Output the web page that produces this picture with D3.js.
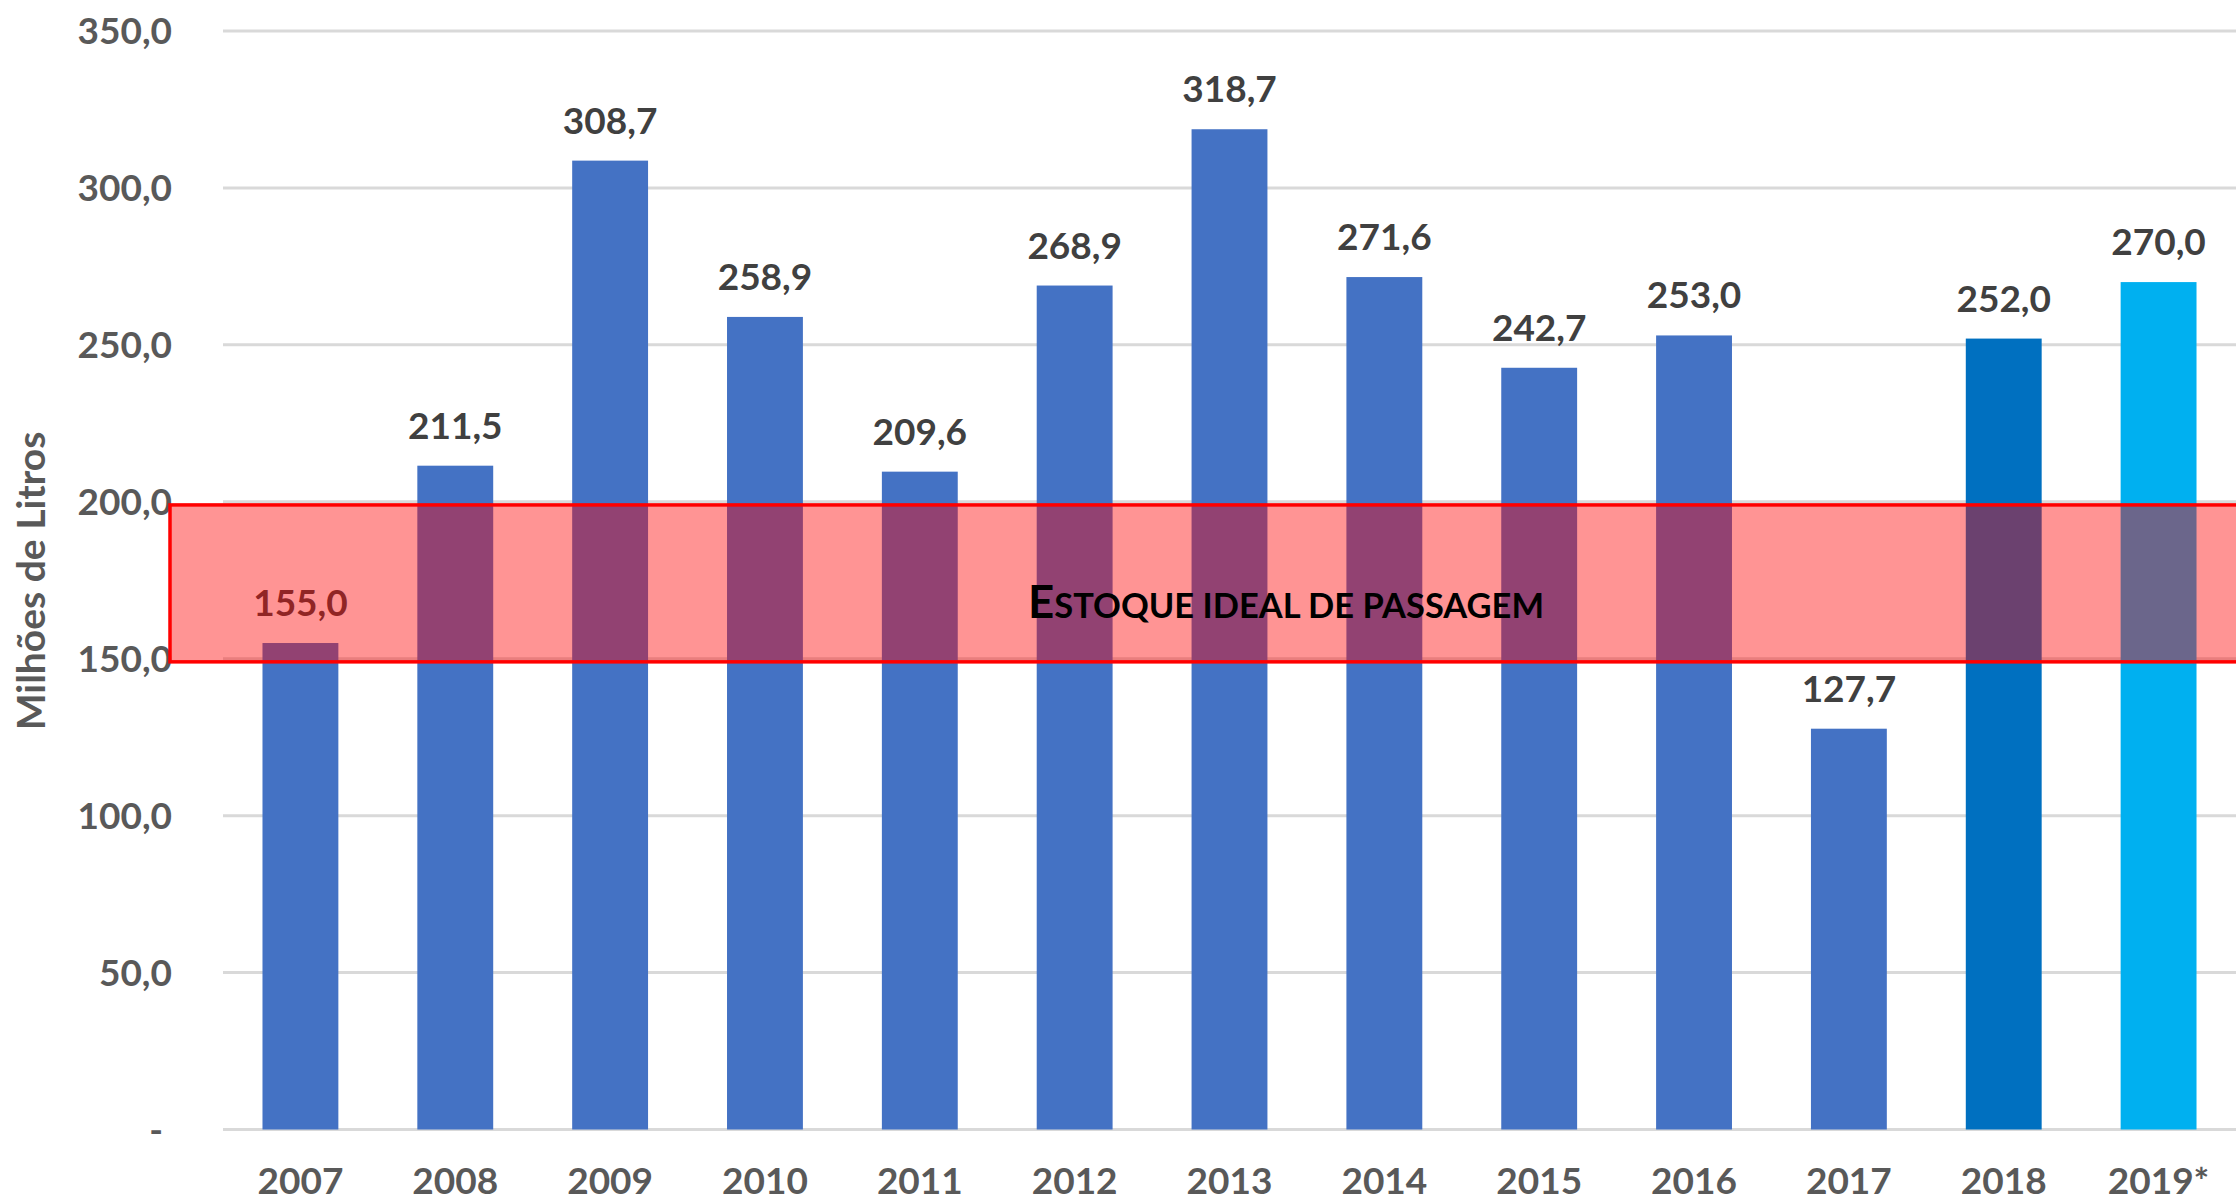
<!DOCTYPE html>
<html>
<head>
<meta charset="utf-8">
<script src="https://cdn.jsdelivr.net/npm/d3@7"></script>
<style>
  html, body { margin: 0; padding: 0; background: #fff; }
  svg { display: block; font-family: Lato, "Open Sans", sans-serif; }
</style>
</head>
<body>
<script>
'use strict';

// values
const years = ['2007', '2008', '2009', '2010', '2011', '2012', '2013', '2014', '2015', '2016', '2017', '2018', '2019*'];
const stock = [155.0, 211.5, 308.7, 258.9, 209.6, 268.9, 318.7, 271.6, 242.7, 253.0, 127.7, 252.0, 270.0];
const barColors = ['#4472C4', '#4472C4', '#4472C4', '#4472C4', '#4472C4', '#4472C4', '#4472C4', '#4472C4', '#4472C4', '#4472C4', '#4472C4', '#0070C0', '#00B0F0'];
const yTicks = [0, 50, 100, 150, 200, 250, 300, 350];
const idealBand = [149, 199];
const bandLabel = 'Estoque ideal de passagem';
const yTitle = 'Milhões de Litros';

const width = 2236;
const height = 1202;
const margin = { top: 31, left: 223, bottom: 72, right: 0 };

const svg = d3.select('body').append('svg')
  .attr('width', width)
  .attr('height', height);

const xScale = d3.scaleBand()
  .domain(years)
  .range([margin.left, width - margin.right])
  .paddingInner(0.51)
  .paddingOuter(0.255);

const yScale = d3.scaleLinear()
  .domain([0, 350])
  .range([height - margin.bottom - 0.5, margin.top]);

const fmt = v => v === 0 ? '- ' : d3.format('.1f')(v).replace('.', ',');

// gridlines
svg.append('g')
  .selectAll('line')
  .data(yTicks)
  .join('line')
  .attr('x1', margin.left)
  .attr('x2', width)
  .attr('y1', d => yScale(d))
  .attr('y2', d => yScale(d))
  .attr('stroke', '#d9d9d9')
  .attr('stroke-width', 3);

// y tick labels
svg.append('g')
  .selectAll('text')
  .data(yTicks)
  .join('text')
  .text(d => fmt(d))
  .attr('x', 172)
  .attr('y', d => yScale(d) + 13)
  .attr('text-anchor', 'end')
  .attr('xml:space', 'preserve')
  .style('white-space', 'pre')
  .attr('fill', '#595959')
  .style('font-size', '37px')
  .style('font-weight', 700);

// bars
svg.append('g')
  .selectAll('rect')
  .data(stock)
  .join('rect')
  .attr('x', (d, i) => xScale(years[i]))
  .attr('width', xScale.bandwidth())
  .attr('y', d => yScale(d))
  .attr('height', d => yScale(0) - yScale(d))
  .attr('fill', (d, i) => barColors[i]);

// data labels
svg.append('g')
  .selectAll('text')
  .data(stock)
  .join('text')
  .text(d => fmt(d))
  .attr('x', (d, i) => xScale(years[i]) + xScale.bandwidth() / 2)
  .attr('y', d => yScale(d) - 27)
  .attr('text-anchor', 'middle')
  .attr('fill', '#404040')
  .style('font-size', '37px')
  .style('font-weight', 700);

// x labels
svg.append('g')
  .selectAll('text')
  .data(years)
  .join('text')
  .text(d => d)
  .attr('x', d => xScale(d) + xScale.bandwidth() / 2)
  .attr('y', 1194)
  .attr('text-anchor', 'middle')
  .attr('fill', '#595959')
  .style('font-size', '37px')
  .style('font-weight', 700);

// ideal stock band, drawn over bars and labels
svg.append('rect')
  .attr('x', 170)
  .attr('width', width - 170 + 10)
  .attr('y', yScale(idealBand[1]))
  .attr('height', yScale(idealBand[0]) - yScale(idealBand[1]))
  .attr('fill', 'rgba(255,0,0,0.42)')
  .attr('stroke', '#ff0000')
  .attr('stroke-width', 3.5);

const bl = svg.append('text')
  .attr('x', 1028)
  .attr('y', 618)
  .attr('textLength', 516)
  .attr('lengthAdjust', 'spacingAndGlyphs')
  .attr('fill', '#000')
  .style('font-weight', 700);
bl.append('tspan').text(bandLabel[0].toUpperCase()).style('font-size', '45px');
bl.append('tspan').text(bandLabel.slice(1).toUpperCase()).style('font-size', '34px');

// y axis title
svg.append('text')
  .text(yTitle)
  .attr('transform', 'translate(45, 581) rotate(-90)')
  .attr('text-anchor', 'middle')
  .attr('fill', '#595959')
  .style('font-size', '39px')
  .style('font-weight', 700);
</script>
</body>
</html>
